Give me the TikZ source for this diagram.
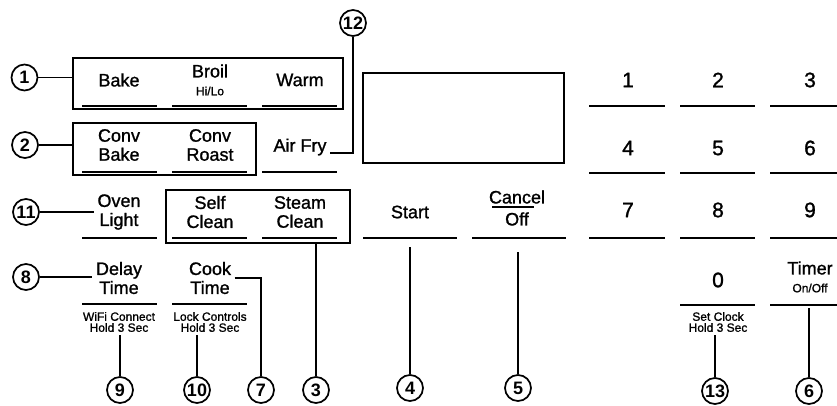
\documentclass[tikz,border=0pt]{standalone}
\usepackage{fontspec}
\setmainfont{Liberation Sans}
\newfontfamily\medfont[FakeBold=1.2]{Liberation Sans}
\usetikzlibrary{calc}

\begin{document}
\begin{tikzpicture}[x=1pt,y=-1pt,
  callout/.style={circle,draw,line width=1.7pt,minimum size=26pt,inner sep=0pt,font=\fontsize{18}{18}\selectfont\bfseries},
  keylabel/.style={align=center,font=\medfont\fontsize{18}{19}\selectfont},
  sublabel/.style={align=center,font=\medfont\fontsize{12}{11}\selectfont},
  digit/.style={font=\medfont\fontsize{21}{21}\selectfont},
  group/.style={draw,line width=1.7pt,inner sep=0pt},
  keyline/.style={line width=1.6pt},
  lead/.style={line width=1.4pt}]
\useasboundingbox (0,0) rectangle (837,405);

% button groups and display
\node[group,minimum width=270pt,minimum height=51pt] (modes) at (208,83.5) {};
\node[group,minimum width=183pt,minimum height=52pt] (conv) at (164.5,149) {};
\node[group,minimum width=184pt,minimum height=53pt] (clean) at (258,216.5) {};
\node[group,minimum width=201pt,minimum height=90pt] (display) at (463.5,118) {};

% key lines
\foreach \x in {82,172,262} {
  \draw[keyline] (\x,106) -- ++(75,0);
  \draw[keyline] (\x,172) -- ++(75,0);
  \draw[keyline] (\x,238) -- ++(75,0);
}
\foreach \x in {82,172} \draw[keyline] (\x,304) -- ++(75,0);
\draw[keyline] (363,238) -- ++(94,0);
\draw[keyline] (472,238) -- ++(94,0);
\foreach \y in {106,173,238} {
  \draw[keyline] (589,\y) -- ++(76,0);
  \draw[keyline] (680,\y) -- ++(75,0);
  \draw[keyline] (770,\y) -- ++(76,0);
}
\draw[keyline] (680,305) -- ++(75,0);
\draw[keyline] (770,305) -- ++(76,0);

% labels
\node[keylabel] (bake) at (119,80) {Bake};
\node[keylabel] (broil) at (210,71) {Broil};
\node[sublabel] (hilo) at (210,91) {Hi/Lo};
\node[keylabel] (warm) at (300,80) {Warm};
\node[keylabel] (convbake) at (119,145) {Conv\\Bake};
\node[keylabel] (convroast) at (210,145) {Conv\\Roast};
\node[keylabel] (airfry) at (300,147) {Air Fry};
\node[keylabel] (oven) at (119,212) {Oven\\Light};
\node[keylabel] (self) at (210,212) {Self\\Clean};
\node[keylabel] (steam) at (300,212) {Steam\\Clean};
\node[keylabel] (start) at (410,212) {Start};
\node[keylabel] (cancel) at (517,197) {Cancel};
\node[keylabel] (off) at (517,219) {Off};
\draw[keyline] ([xshift=-25pt]cancel.south) -- ([xshift=17pt]cancel.south);
\node[keylabel] (delay) at (119,278) {Delay\\Time};
\node[keylabel] (cook) at (210,278) {Cook\\Time};
\node[sublabel] (wifi) at (119,322) {WiFi Connect\\Hold 3 Sec};
\node[sublabel] (lock) at (210,322) {Lock Controls\\Hold 3 Sec};
\foreach \d/\x/\y in {1/628/80,2/718/80,3/810/80,4/628/148,5/718/148,6/810/148,7/628/210,8/718/210,9/810/210,0/718/280}
  \node[digit] (k\d) at (\x,\y) {\d};
\node[keylabel] (timer) at (810,268) {Timer};
\node[sublabel] (onoff) at (810,288) {On/Off};
\node[sublabel] (setclock) at (718,322) {Set Clock\\Hold 3 Sec};

% callouts
\node[callout] (c1) at (24.5,77.5) {1};
\node[callout] (c2) at (25,145) {2};
\node[callout] (c11) at (26,212) {11};
\node[callout] (c8) at (26,277) {8};
\node[callout] (c9) at (120,390) {9};
\node[callout] (c10) at (197,390) {10};
\node[callout] (c7) at (261,390) {7};
\node[callout] (c3) at (316,390) {3};
\node[callout] (c4) at (410,388) {4};
\node[callout] (c5) at (518,388) {5};
\node[callout] (c13) at (715,391) {13};
\node[callout] (c6) at (809,391) {6};
\node[callout] (c12) at (353,23) {12};

\coordinate (startend) at (410,247);
\coordinate (cancelend) at (518,252);
\coordinate (timerend) at (809,308);

\draw[lead] (c1) -- (c1 -| modes.west);
\draw[lead] (c2) -- (c2 -| conv.west);
\draw[lead] (c11) -- (c11 -| oven.west);
\draw[lead] (c8) -- (c8 -| delay.west);
\draw[lead] (c9) -- (c9 |- wifi.south);
\draw[lead] (c10) -- (c10 |- lock.south);
\draw[lead] (cook.east) -| (c7);
\draw[lead] (c3) -- (c3 |- clean.south);
\draw[lead] (c12) |- ([yshift=-6pt]airfry.east);
\draw[lead] (c4) -- (startend);
\draw[lead] (c5) -- (cancelend);
\draw[lead] (c13) -- (c13 |- setclock.south);
\draw[lead] (c6) -- (timerend);
\end{tikzpicture}
\end{document}
